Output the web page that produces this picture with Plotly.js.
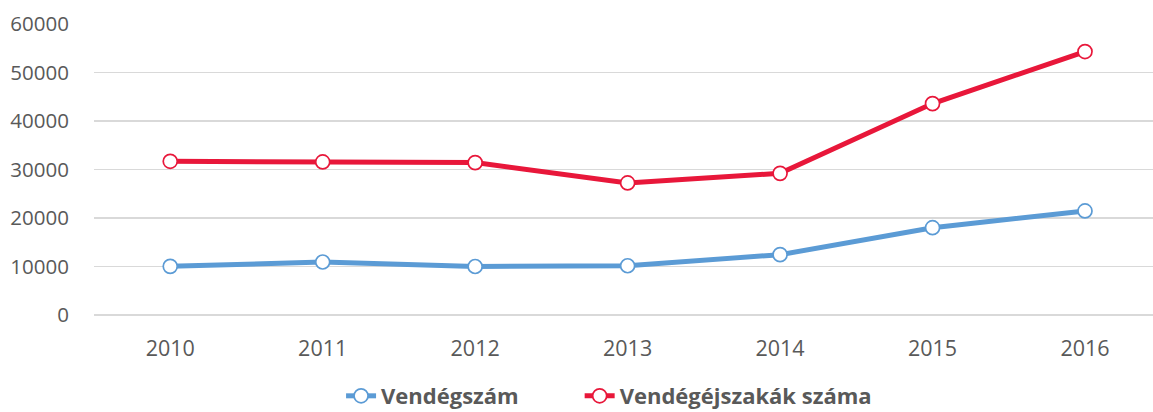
<!DOCTYPE html>
<html>
<head>
<meta charset="utf-8">
<script src="https://cdn.plot.ly/plotly-3.0.1.min.js"></script>
<style>html,body{margin:0;padding:0;background:#fff;}#chart{width:1153px;height:412px;}</style>
</head>
<body>
<div id="chart"></div>
<script>
const years = ['2010','2011','2012','2013','2014','2015','2016'];
const vendegszam = [10030, 10930, 10000, 10150, 12440, 18000, 21450];
const vendegejszakak = [31690, 31560, 31420, 27230, 29210, 43590, 54320];
const yTicks = [0, 10000, 20000, 30000, 40000, 50000, 60000];

const blue = '#5B9BD5';
const red = '#E8173A';
const fontFam = '"Open Sans", "Noto Sans", sans-serif';

const traces = [
  {
    x: years, y: vendegszam, name: 'Vendégszám', type: 'scatter', mode: 'lines+markers',
    legend: 'legend',
    line: {color: blue, width: 5},
    marker: {symbol: 'circle', size: 14, color: '#ffffff', line: {color: blue, width: 1.7}}
  },
  {
    x: years, y: vendegejszakak, name: 'Vendégéjszakák száma', type: 'scatter', mode: 'lines+markers',
    legend: 'legend2',
    line: {color: red, width: 5},
    marker: {symbol: 'circle', size: 14, color: '#ffffff', line: {color: red, width: 1.7}}
  }
];

const legendFont = {family: fontFam, size: 22, color: '#595959', weight: 'bold'};

const layout = {
  width: 1153, height: 412,
  margin: {l: 94, r: 0, t: 24, b: 97, autoexpand: false},
  paper_bgcolor: '#ffffff', plot_bgcolor: '#ffffff',
  font: {family: fontFam, size: 21, color: '#595959'},
  showlegend: true,
  legend: {
    orientation: 'h', x: 0.2333, xanchor: 'left', y: -0.2784, yanchor: 'middle',
    font: legendFont, itemwidth: 30, bgcolor: 'rgba(0,0,0,0)'
  },
  legend2: {
    orientation: 'h', x: 0.4586, xanchor: 'left', y: -0.2784, yanchor: 'middle',
    font: legendFont, itemwidth: 30, bgcolor: 'rgba(0,0,0,0)'
  },
  xaxis: {
    type: 'category', range: [-0.5, 6.446], showgrid: false, zeroline: false,
    showline: false, ticks: 'outside', ticklen: 14, tickcolor: 'rgba(0,0,0,0)',
    tickfont: {family: fontFam, size: 21.5, color: '#595959'}, fixedrange: true
  },
  yaxis: {
    range: [0, 60000], tickvals: yTicks, ticktext: yTicks.map(String),
    showgrid: true, gridcolor: '#d9d9d9', gridwidth: 1.3, zeroline: true, zerolinecolor: '#d9d9d9', zerolinewidth: 1.3,
    showline: false, ticks: 'outside', ticklen: 20, tickcolor: 'rgba(0,0,0,0)',
    tickfont: {family: fontFam, size: 20.5, color: '#595959'}, fixedrange: true
  }
};

Plotly.newPlot('chart', traces, layout, {displayModeBar: false, staticPlot: true});
</script>
</body>
</html>
